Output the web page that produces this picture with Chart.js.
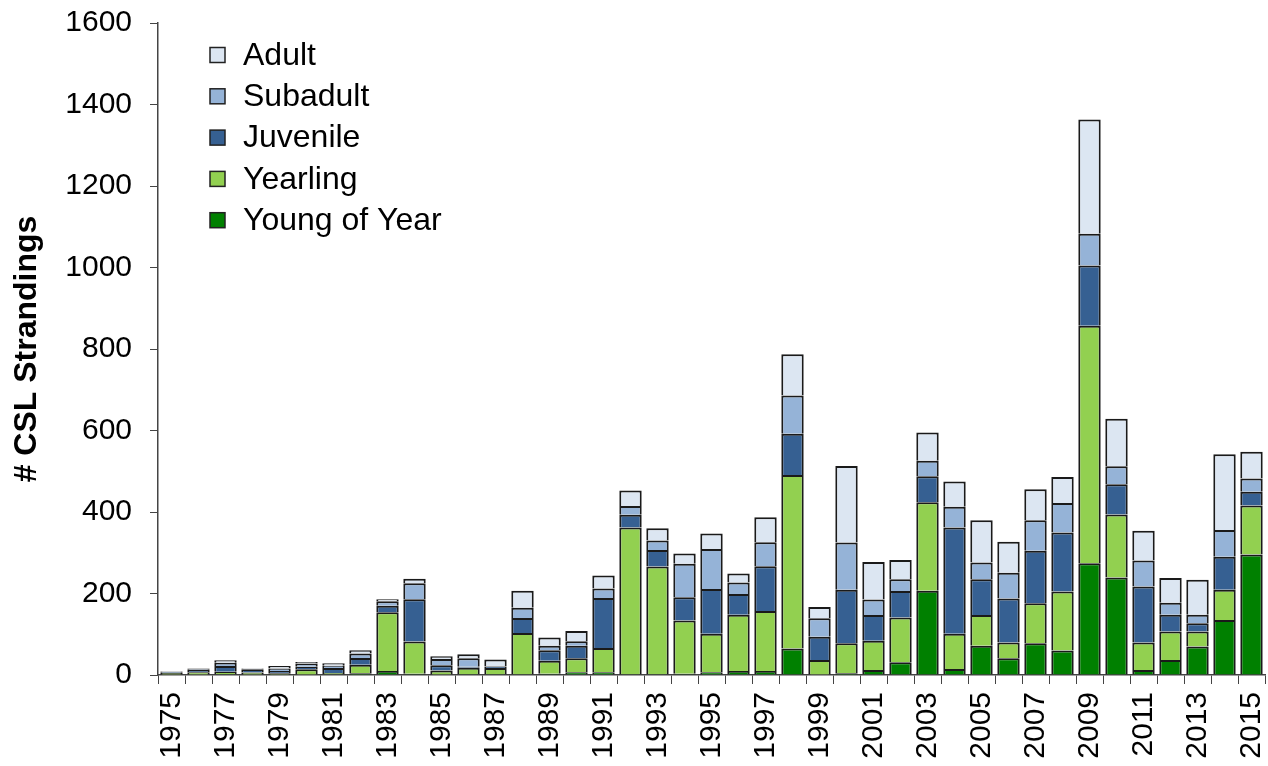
<!DOCTYPE html>
<html>
<head>
<meta charset="utf-8">
<script src="https://cdn.jsdelivr.net/npm/chart.js@4.4.1/dist/chart.umd.min.js"></script>
<style>
  html, body { margin: 0; padding: 0; background: #fff; }
  #wrap { width: 1268px; height: 766px; }
</style>
</head>
<body>
<div id="wrap"><canvas id="c" width="1268" height="766"></canvas></div>
<script>
const years = [1975,1976,1977,1978,1979,1980,1981,1982,1983,1984,1985,1986,1987,1988,1989,1990,1991,1992,1993,1994,1995,1996,1997,1998,1999,2000,2001,2002,2003,2004,2005,2006,2007,2008,2009,2010,2011,2012,2013,2014,2015];
const youngOfYear = [0,1,2,1,1,1,2,4,10,3,1,2,2,2,3,7,7,2,2,3,7,10,10,65,0,4,12,31,207,15,72,41,78,60,274,239,12,37,70,135,296];
const yearling    = [5,6,6,5,3,13,3,21,144,79,10,16,15,101,32,34,59,360,264,131,94,138,147,426,37,74,72,110,217,86,75,39,98,145,583,155,68,70,37,74,120];
const juvenile    = [2,5,14,8,6,6,12,17,16,104,13,2,4,37,26,31,123,31,41,57,110,51,110,101,57,131,63,65,64,261,88,108,129,145,148,74,137,41,20,81,34];
const subadult    = [1,2,8,1,6,8,6,11,11,39,15,21,1,25,11,11,23,22,23,82,98,28,59,94,45,116,38,29,38,51,41,63,75,72,78,44,64,29,21,66,32];
const adult       = [1,2,6,1,6,4,6,8,5,11,7,10,16,42,20,25,32,38,30,25,38,22,61,101,28,188,92,47,69,62,104,76,76,64,280,117,73,61,86,186,66];
const yTicks = [0,200,400,600,800,1000,1200,1400,1600];

const FONT = "'Liberation Sans', Arial, sans-serif";

const legendPlugin = {
  id: 'insideLegend',
  afterDraw(chart) {
    const ctx = chart.ctx;
    const ds = chart.data.datasets.slice().reverse();
    const x0 = 210, y0 = 55, step = 41.3, sq = 15;
    ctx.save();
    ctx.font = "32px " + FONT;
    ctx.textBaseline = 'middle';
    ctx.textAlign = 'left';
    ds.forEach((d, i) => {
      const y = y0 + i * step;
      ctx.fillStyle = d.backgroundColor;
      ctx.fillRect(x0, y - sq / 2, sq, sq);
      ctx.lineWidth = 1.5;
      ctx.strokeStyle = '#222';
      ctx.strokeRect(x0, y - sq / 2, sq, sq);
      ctx.fillStyle = '#000';
      ctx.fillText(d.label, 243, y + 1);
    });
    ctx.restore();
  }
};

const mk = (label, data, color) => ({
  label, data, backgroundColor: color, borderColor: '#1a1a1a', borderWidth: 2,
  barPercentage: 0.83, categoryPercentage: 1.0
});

new Chart(document.getElementById('c'), {
  type: 'bar',
  data: {
    labels: years.map(String),
    datasets: [
      mk('Young of Year', youngOfYear, '#008000'),
      mk('Yearling', yearling, '#92D050'),
      mk('Juvenile', juvenile, '#366092'),
      mk('Subadult', subadult, '#95B3D7'),
      mk('Adult', adult, '#DCE6F2')
    ]
  },
  options: {
    responsive: false,
    devicePixelRatio: 1,
    animation: false,
    layout: { padding: { top: 23, right: 3, left: 0, bottom: 0 } },
    plugins: { legend: { display: false }, tooltip: { enabled: false } },
    scales: {
      x: {
        stacked: true,
        grid: { drawOnChartArea: false, drawTicks: true, tickLength: 9, color: '#444', offset: true },
        border: { color: '#444', width: 1.5 },
        ticks: {
          autoSkip: false, maxRotation: 90, minRotation: 90, padding: 8,
          color: '#000', font: { family: FONT, size: 30 },
          callback: function (v, i) { return i % 2 === 0 ? this.getLabelForValue(v) : ''; }
        },
        afterFit(scale) { scale.height = 91; scale.paddingLeft = 0; scale.paddingRight = 0; }
      },
      y: {
        stacked: true, min: 0, max: 1600,
        afterBuildTicks(scale) { scale.ticks = yTicks.map(v => ({ value: v })); },
        grid: { drawOnChartArea: false, drawTicks: true, tickLength: 8, color: '#444' },
        border: { color: '#444', width: 1.5 },
        ticks: { color: '#000', padding: 18, font: { family: FONT, size: 30 }, callback: v => String(v) },
        title: { display: true, text: '# CSL Strandings', color: '#000', font: { family: FONT, size: 32, weight: 'bold' }, padding: { top: 8, bottom: 0 } },
        afterFit(scale) { scale.width = 158; scale.paddingTop = 0; scale.paddingBottom = 0; }
      }
    }
  },
  plugins: [legendPlugin]
});
</script>
</body>
</html>
